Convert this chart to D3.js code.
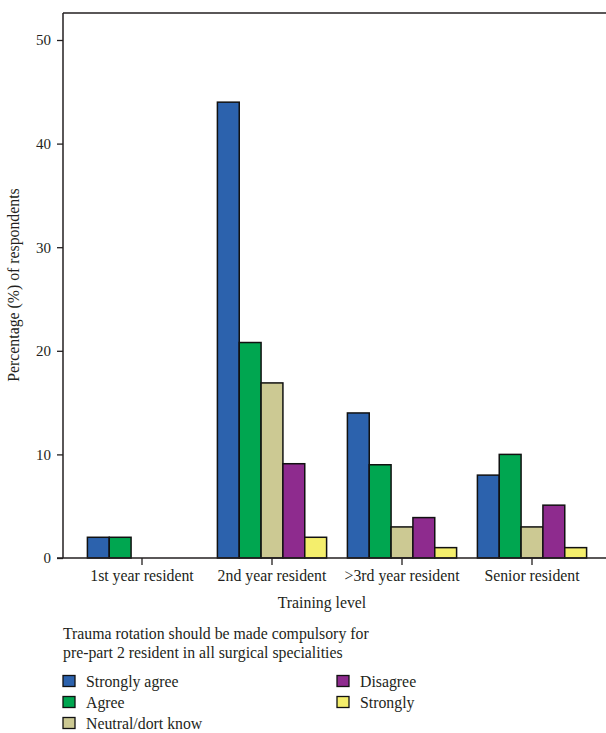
<!DOCTYPE html>
<html>
<head>
<meta charset="utf-8">
<script src="https://cdn.jsdelivr.net/npm/d3@7"></script>
<style>
  body { margin: 0; background: #fff; }
  svg { display: block; }
  text { font-family: "Liberation Serif", "DejaVu Serif", serif; fill: #231f20; }
</style>
</head>
<body>
<svg id="chart" width="606" height="733"></svg>
<script>
const categories = ["1st year resident", "2nd year resident", ">3rd year resident", "Senior resident"];
const seriesNames = ["Strongly agree", "Agree", "Neutral/dort know", "Disagree", "Strongly"];
const stronglyAgree = [2, 44, 14, 8];
const agree = [2, 20.8, 9, 10];
const neutral = [0, 16.9, 3, 3];
const disagree = [0, 9.1, 3.9, 5.1];
const strongly = [0, 2, 1, 1];
const yTicks = [0, 10, 20, 30, 40, 50];
const colors = ["#2c62ad", "#00a650", "#ccc993", "#8e2b8e", "#f4ee6c"];
const legendTitle = ["Trauma rotation should be made compulsory for", "pre-part 2 resident in all surgical specialities"];
const xTitle = "Training level";
const yTitle = "Percentage (%) of respondents";

const seriesValues = [stronglyAgree, agree, neutral, disagree, strongly];
const FS = 15.8;

const svg = d3.select("#chart");
const plotLeft = 63, plotTop = 13, plotRight = 606, plotBottom = 558;

const y = d3.scaleLinear().domain([0, 50]).range([plotBottom, 40]);
const x0 = d3.scaleBand().domain(categories).range([77, 597]).paddingInner(0.16).paddingOuter(0.08);
const x1 = d3.scaleBand().domain(seriesNames).range([0, x0.bandwidth()]);

// frame: top line
svg.append("line").attr("x1", plotLeft).attr("x2", plotRight).attr("y1", plotTop).attr("y2", plotTop)
  .attr("stroke", "#231f20").attr("stroke-width", 1.5);

// bars
const groups = svg.append("g").selectAll("g").data(categories).join("g")
  .attr("transform", d => `translate(${x0(d)},0)`);
groups.selectAll("rect")
  .data((c, i) => seriesNames.map((s, j) => ({ s, v: seriesValues[j][i], j })).filter(d => d.v > 0))
  .join("rect")
  .attr("x", d => x1(d.s))
  .attr("width", x1.bandwidth())
  .attr("y", d => y(d.v))
  .attr("height", d => plotBottom - y(d.v))
  .attr("fill", d => colors[d.j])
  .attr("stroke", "#111")
  .attr("stroke-width", 1.5);

// y axis
const yAxis = svg.append("g").attr("transform", `translate(${plotLeft},0)`)
  .call(d3.axisLeft(y).tickValues(yTicks).tickSize(6).tickPadding(6));
yAxis.select(".domain").attr("d", `M0,${plotTop}V${plotBottom}`).attr("stroke", "#231f20").attr("stroke-width", 1.5);
yAxis.selectAll(".tick line").attr("stroke", "#231f20").attr("stroke-width", 1.3);
yAxis.selectAll(".tick text").attr("font-size", 15).attr("font-family", "Liberation Serif, serif").attr("fill", "#231f20");

// x axis
const xAxis = svg.append("g").attr("transform", `translate(0,${plotBottom})`)
  .call(d3.axisBottom(x0).tickSize(7).tickPadding(5));
xAxis.select(".domain").attr("d", `M${plotLeft - 6},0H${plotRight}`).attr("stroke", "#231f20").attr("stroke-width", 1.5);
xAxis.selectAll(".tick line").attr("stroke", "#231f20").attr("stroke-width", 1.3);
xAxis.selectAll(".tick text").attr("font-size", FS).attr("font-family", "Liberation Serif, serif").attr("fill", "#231f20");

// axis titles
svg.append("text").attr("x", 322).attr("y", 608).attr("text-anchor", "middle")
  .attr("font-size", FS).text(xTitle);
svg.append("text").attr("transform", `translate(19,285) rotate(-90)`).attr("text-anchor", "middle")
  .attr("font-size", FS).text(yTitle);

// legend
legendTitle.forEach((t, i) => {
  svg.append("text").attr("x", 63).attr("y", 639 + i * 19).attr("font-size", FS).text(t);
});
const legPos = [[63, 681], [63, 702], [63, 723], [337, 681], [337, 702]];
seriesNames.forEach((s, i) => {
  const [lx, ly] = legPos[i];
  svg.append("rect").attr("x", lx).attr("y", ly - 5.5).attr("width", 12).attr("height", 11)
    .attr("fill", colors[i]).attr("stroke", "#111").attr("stroke-width", 1.3);
  svg.append("text").attr("x", lx + 23).attr("y", ly + 5.5).attr("font-size", FS).text(s);
});
</script>
</body>
</html>
